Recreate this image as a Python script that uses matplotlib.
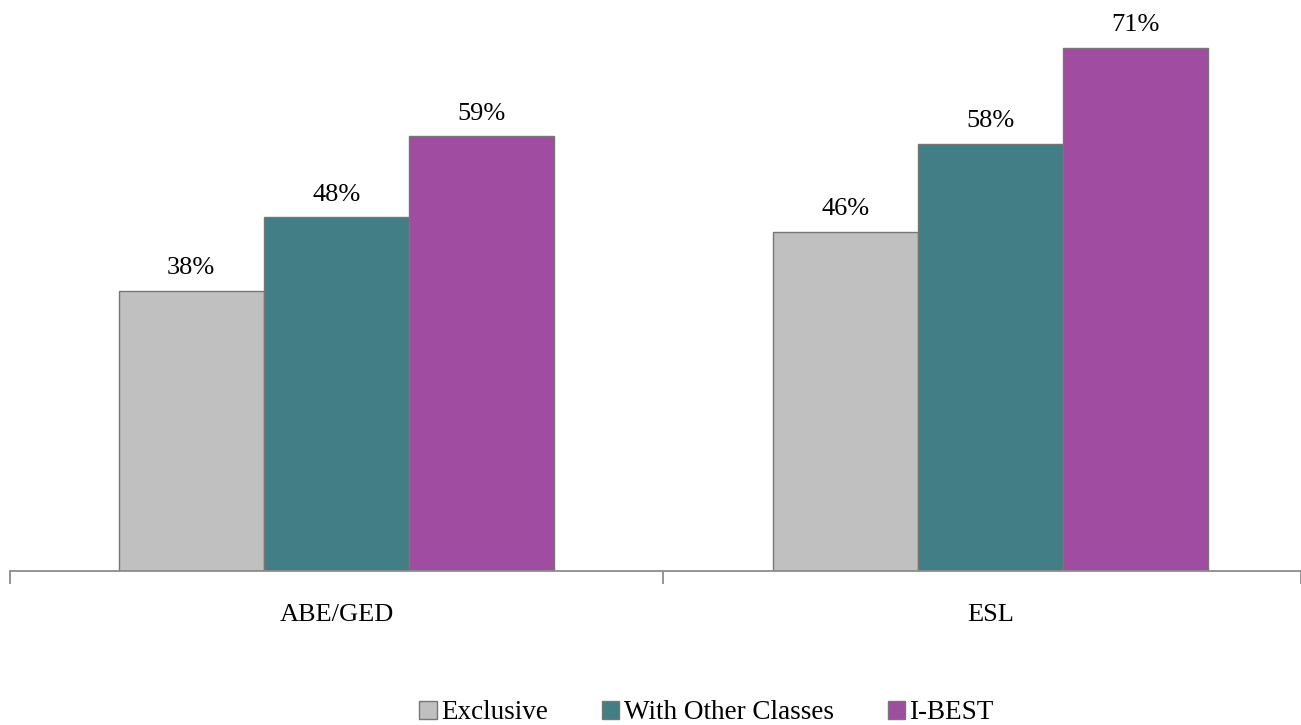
import numpy as np
import matplotlib
matplotlib.use('Agg')
import matplotlib.pyplot as plt

# data
categories = ['ABE/GED', 'ESL']
series_names = ['Exclusive', 'With Other Classes', 'I-BEST']
exclusive = [38, 46]
with_other = [48, 58]
ibest = [59, 71]

colors = ['#C0C0C0', '#427E85', '#A04CA0']
edge = '#767676'

plt.rcParams['font.family'] = ['Liberation Serif', 'DejaVu Serif']

fig = plt.figure(figsize=(13.01, 7.25), dpi=100)
ax = fig.add_axes([9.5 / 1301, 154 / 725, 1 - 9.5 / 1301, 571 / 725])

x = np.arange(len(categories))
w = 0.222
for i, (name, vals) in enumerate(zip(series_names, [exclusive, with_other, ibest])):
	bars = ax.bar(x + (i - 1) * w, vals, w, color=colors[i], edgecolor=edge,
		linewidth=1, label=name)
	for b, v in zip(bars, vals):
		ax.annotate(str(v) + '%', (b.get_x() + b.get_width() / 2, v),
			xytext=(0, 12), textcoords='offset points',
			ha='center', va='baseline', fontsize=19)

ax.set_xlim(-0.5, 1.475)
ax.set_ylim(0, 77.5)

for s in ['top', 'right', 'left']:
	ax.spines[s].set_visible(False)
ax.spines['bottom'].set_color('#8c8c8c')
ax.spines['bottom'].set_linewidth(1.3)
ax.set_yticks([])

ax.set_xticks(x)
ax.set_xticklabels(categories, fontsize=19)
ax.tick_params(axis='x', which='major', length=0, pad=24)
ax.set_xticks([-0.5, 0.5, 1.475], minor=True)
ax.tick_params(axis='x', which='minor', length=9, width=1.3, color='#8c8c8c')

leg = fig.legend(loc='lower center', bbox_to_anchor=(0.543, -0.034), ncol=3,
	frameon=False, fontsize=19.5, handlelength=0.65, handleheight=0.65,
	handletextpad=0.15, columnspacing=2.0)

fig.savefig('out.png', dpi=100)
